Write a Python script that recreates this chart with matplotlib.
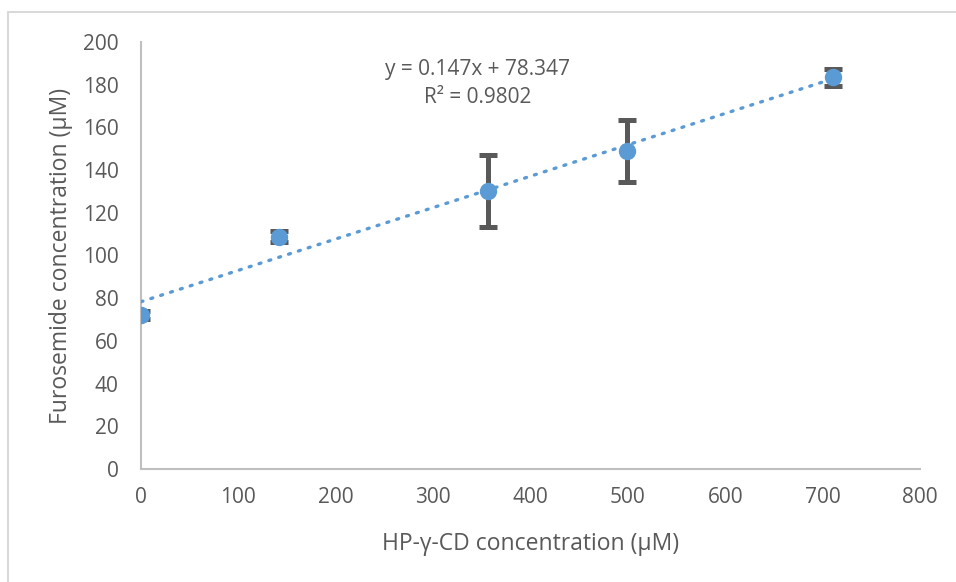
import numpy as np
import matplotlib.pyplot as plt
from matplotlib.patches import Rectangle

# data
hp_conc = [0, 142, 356, 499, 711]
furo_conc = [72.1, 108.7, 130.1, 149.0, 183.5]
furo_err = [2.0, 2.6, 16.8, 14.6, 4.0]
slope = 0.147
intercept = 78.347
r_squared = 0.9802

plt.rcParams['font.family'] = ['Open Sans', 'DejaVu Sans']
text_col = "#595959"
blue = "#5B9BD5"

fig = plt.figure(figsize=(9.56, 5.82), dpi=100)
ax = fig.add_axes([0.1475, 0.1942, 0.8148, 0.7336])

# outer chart frame
fig.patches.append(Rectangle((8 / 956, -0.1), 1.2, 1 - 12 / 582 + 0.1, transform=fig.transFigure,
                             fill=False, edgecolor="#d9d9d9", linewidth=1.5))

# error bars
eb = ax.errorbar(hp_conc, furo_conc, yerr=furo_err, fmt="none", ecolor="#595959",
                 elinewidth=3.6, capsize=6.5, capthick=3.6, zorder=2)
for coll in eb[2]:
    coll.set_capstyle("round")
for cap in eb[1]:
    cap.set_solid_capstyle("round")

# linear trendline
x_fit = np.linspace(0, max(hp_conc), 100)
ax.plot(x_fit, slope * x_fit + intercept, color=blue, linewidth=2.4,
        linestyle=(0, (0.6, 2.5)), dash_capstyle="round", zorder=3)

ax.plot(hp_conc, furo_conc, "o", color=blue, markersize=11.5, zorder=4)

ax.text(346, 187, f"y = {slope}x + {intercept}", ha="center", va="center",
        fontsize=15, color=text_col)
ax.text(346, 173.8, f"R² = {r_squared}", ha="center", va="center",
        fontsize=15, color=text_col)

ax.set_xlim(0, 800)
ax.set_ylim(0, 200)
ax.set_xticks(np.arange(0, 801, 100))
ax.set_yticks(np.arange(0, 201, 20))
ax.tick_params(length=0, labelsize=15, labelcolor=text_col)
ax.tick_params(axis="y", pad=16)
ax.tick_params(axis="x", pad=13)
for s in ["top", "right"]:
    ax.spines[s].set_visible(False)
for s in ["left", "bottom"]:
    ax.spines[s].set_color("#bfbfbf")
    ax.spines[s].set_linewidth(1.5)

ax.set_xlabel("HP-γ-CD concentration (μM)", fontsize=16.5, color=text_col, labelpad=17)
ax.set_ylabel("Furosemide concentration (μM)", fontsize=16.5, color=text_col, labelpad=7)

fig.savefig("out.png", dpi=100)
